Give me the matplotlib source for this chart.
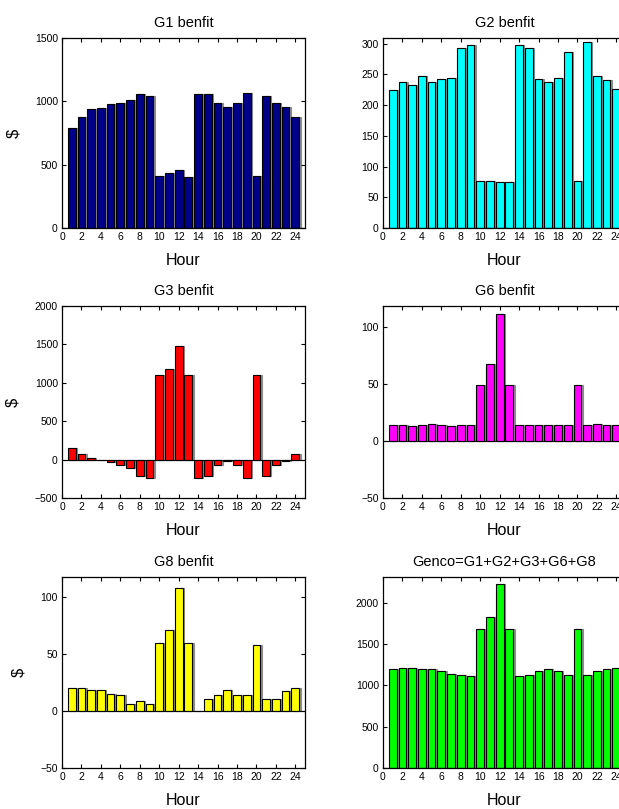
import numpy as np
import matplotlib
matplotlib.use("Agg")
import matplotlib.pyplot as plt

plt.rcParams['font.family'] = ['Liberation Sans', 'DejaVu Sans']

hours = np.arange(1, 25)

g1 = [792, 878, 936, 946, 978, 988, 1012, 1054, 1043, 412, 433, 456,
      401, 1054, 1054, 988, 954, 988, 1064, 412, 1043, 988, 954, 878]
g2 = [224, 238, 233, 247, 238, 242, 244, 293, 298, 77, 77, 75,
      75, 298, 293, 242, 238, 244, 286, 77, 302, 247, 240, 226]
g3 = [152, 78, 26, -5, -35, -74, -109, -217, -239, 1096, 1183, 1478,
      1096, -239, -217, -70, -17, -70, -239, 1096, -217, -70, -17, 78]
g6 = [13.8, 13.8, 12.6, 13.8, 15, 13.8, 12.6, 13.8, 13.8, 48.7, 66.9, 111,
      48.7, 13.8, 13.8, 13.8, 13.8, 13.8, 13.8, 48.7, 13.8, 15, 13.8, 13.8]
g8 = [20, 20, 18.5, 18.5, 15, 13.8, 6.2, 8.5, 6.2, 59.8, 71, 108,
      59.8, 0, 11, 13.8, 18.5, 13.8, 13.8, 58.4, 11, 11, 17.3, 20]
genco = [1195, 1211, 1211, 1195, 1195, 1175, 1142, 1126, 1110, 1679, 1833, 2232,
         1679, 1110, 1126, 1175, 1195, 1175, 1126, 1679, 1126, 1175, 1195, 1211]

titles = ['G1 benfit', 'G2 benfit', 'G3 benfit', 'G6 benfit', 'G8 benfit',
          'Genco=G1+G2+G3+G6+G8']
series = [g1, g2, g3, g6, g8, genco]
colors = ['#000088', '#00FFFF', '#FF0000', '#FF00FF', '#FFFF00', '#00FF00']
ylims = [(0, 1500), (0, 309), (-500, 2000), (-50, 118), (-50, 118), (0, 2313)]
yticks = [np.arange(0, 1501, 500), np.arange(0, 301, 50), np.arange(-500, 2001, 500),
          [-50, 0, 50, 100], [-50, 0, 50, 100], np.arange(0, 2001, 500)]

fig = plt.figure(figsize=(6.19, 8.09), dpi=100)

# axes boxes in pixels: left, top, right, bottom
col_x = [(62, 305), (383, 626)]
row_y = [(38, 228), (306, 498), (577, 768)]
W, H = 619, 809

for i in range(6):
    r, c = divmod(i, 2)
    x0, x1 = col_x[c]
    y0, y1 = row_y[r]
    ax = fig.add_axes([x0 / W, 1 - y1 / H, (x1 - x0) / W, (y1 - y0) / H])
    vals = series[i]
    # gray drop shadow behind the bars
    ax.bar(hours + 0.14, vals, width=0.8, color='#8c8c8c', edgecolor='#8c8c8c',
           linewidth=0.8, zorder=1)
    ax.bar(hours, vals, width=0.8, color=colors[i], edgecolor='black', linewidth=0.8, zorder=2)
    ax.axhline(0, color='black', linewidth=0.8, zorder=3)
    ax.set_xlim(0, 25)
    ax.set_ylim(*ylims[i])
    ax.set_xticks(np.arange(0, 25, 2))
    ax.set_yticks(yticks[i])
    ax.tick_params(direction='in', top=True, right=True, length=3, width=0.8,
                   labelsize=7.5, pad=3)
    for s in ax.spines.values():
        s.set_linewidth(0.9)
    ax.set_title(titles[i], fontsize=10.5, pad=8)
    ax.set_xlabel('Hour', fontsize=11.5, labelpad=8)
    if c == 0:
        ax.set_ylabel('$', fontsize=12, labelpad=10)

fig.savefig('out.png', dpi=100)
